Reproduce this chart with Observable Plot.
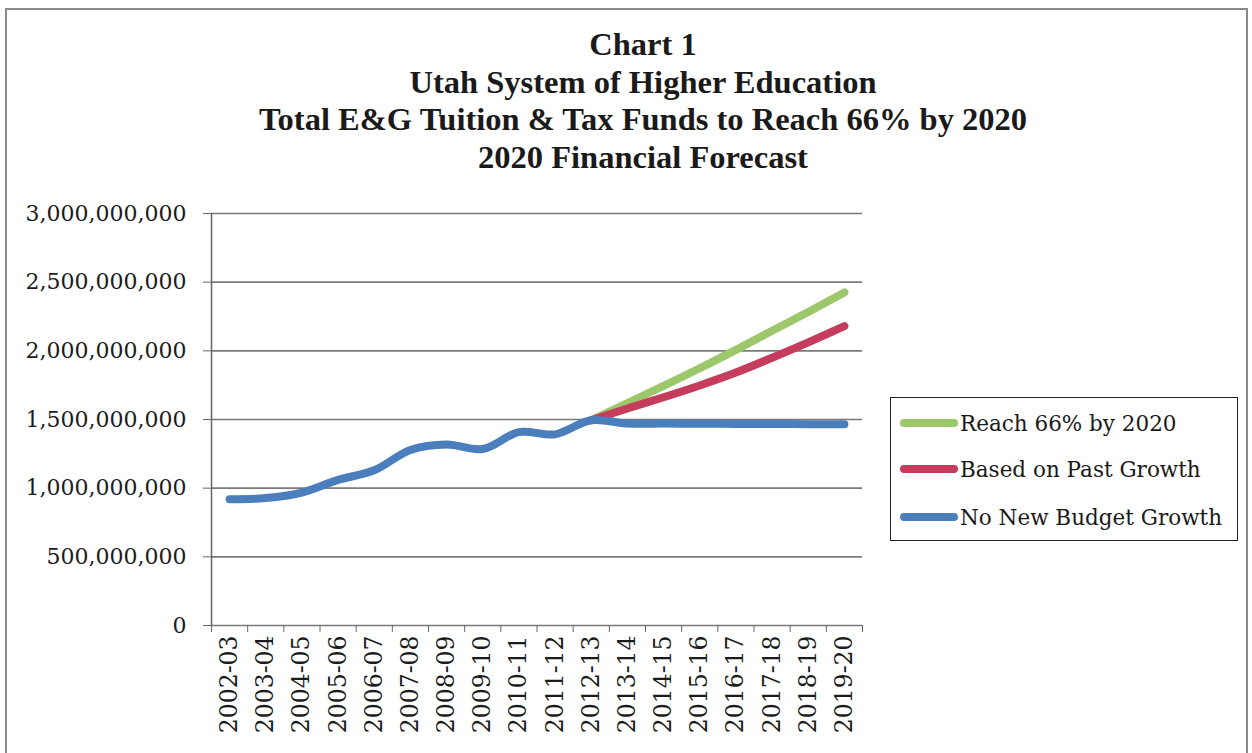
<!DOCTYPE html>
<html><head><meta charset="utf-8">
<script src="https://cdn.jsdelivr.net/npm/d3@7"></script>
<script src="https://cdn.jsdelivr.net/npm/@observablehq/plot@0.6"></script>
<style>
body{margin:0;background:#fff;width:1252px;height:753px;overflow:hidden;position:relative;color:#1c1c1c}
#frame{position:absolute;left:5px;top:8px;width:1243px;height:780px;border:2px solid #8a8a8a;box-sizing:border-box}
#title{position:absolute;left:0;top:26px;width:1286px;text-align:center;font:bold 32.5px/37.5px "Liberation Serif",serif;color:#1a1a1a}
#chart{position:absolute;left:0;top:180px}
#legend{position:absolute;left:890px;top:397px;width:348px;height:144px;border:1.5px solid #222;box-sizing:border-box;font:21.5px "DejaVu Serif",serif;color:#1a1a1a}
.row{position:absolute;left:9px;height:30px;display:flex;align-items:center;white-space:nowrap}
.sw{display:inline-block;width:58px;height:8px;border-radius:4px;margin-right:2px}
</style></head><body>
<div id="frame"></div>
<div id="title">Chart 1<br>Utah System of Higher Education<br>Total E&amp;G Tuition &amp; Tax Funds to Reach 66% by 2020<br>2020 Financial Forecast</div>
<div id="chart"></div>
<div id="legend"></div>
<script>
const years = ["2002-03","2003-04","2004-05","2005-06","2006-07","2007-08","2008-09","2009-10","2010-11","2011-12","2012-13","2013-14","2014-15","2015-16","2016-17","2017-18","2018-19","2019-20"];
const noNewBudgetGrowth = [920000000, 928000000, 968000000, 1060000000, 1130000000, 1278000000, 1318000000, 1285000000, 1408000000, 1392000000, 1495000000, 1470000000, 1470000000, 1469000000, 1468000000, 1467000000, 1466000000, 1466000000];
const projectionYears = ["2012-13","2013-14","2014-15","2015-16","2016-17","2017-18","2018-19","2019-20"];
const basedOnPastGrowth = [1495000000, 1580000000, 1662000000, 1748000000, 1842000000, 1950000000, 2062000000, 2180000000];
const reach66By2020 = [1495000000, 1620000000, 1745000000, 1873000000, 2007000000, 2146000000, 2283000000, 2425000000];
const yTicks = [0, 500000000, 1000000000, 1500000000, 2000000000, 2500000000, 3000000000];
const seriesNames = ["Reach 66% by 2020", "Based on Past Growth", "No New Budget Growth"];
const seriesColors = ["#9cc76a", "#c53c5d", "#4a7ebd"];

const idx = y => years.indexOf(y);
const blue = years.map((y, i) => ({i, v: noNewBudgetGrowth[i]}));
const red = projectionYears.map((y, k) => ({i: idx(y), v: basedOnPastGrowth[k]}));
const green = projectionYears.map((y, k) => ({i: idx(y), v: reach66By2020[k]}));
const boundaries = d3.range(-0.5, years.length, 1);
const lineOpts = c => ({x: "i", y: "v", stroke: c, strokeWidth: 8, curve: "catmull-rom", strokeLinecap: "round", strokeLinejoin: "round"});

const plot = Plot.plot({
  width: 1252, height: 565,
  marginLeft: 211, marginRight: 390, marginTop: 33, marginBottom: 120,
  x: {type: "linear", domain: [-0.5, years.length - 0.5]},
  y: {domain: [0, 3000000000]},
  style: {fontFamily: "'DejaVu Serif', serif", fontSize: "22px", color: "#1c1c1c", background: "transparent"},
  marks: [
    Plot.ruleY(yTicks, {stroke: "#7a7a7a", strokeWidth: 1.6}),
    Plot.ruleX([-0.5], {y1: 0, y2: 3000000000, stroke: "#666", strokeWidth: 1.5}),
    Plot.axisY(yTicks, {tickFormat: d3.format(","), tickSize: 8, tickPadding: 17, stroke: "#666", label: null}),
    Plot.axisX(boundaries, {tickSize: 7, tickFormat: () => "", stroke: "#666", label: null}),
    Plot.axisX(d3.range(years.length), {tickSize: 0, tickPadding: 10, tickRotate: -90, fontSize: 23.5, tickFormat: i => years[i], label: null}),
    Plot.line(green, lineOpts(seriesColors[0])),
    Plot.line(red, lineOpts(seriesColors[1])),
    Plot.line(blue, lineOpts(seriesColors[2]))
  ]
});
document.getElementById("chart").append(plot);

const leg = document.getElementById("legend");
const rowTops = [10, 56, 104];
seriesNames.forEach((n, k) => {
  const r = document.createElement("div");
  r.className = "row";
  r.style.top = rowTops[k] + "px";
  r.innerHTML = `<span class="sw" style="background:${seriesColors[k]}"></span><span>${n}</span>`;
  leg.append(r);
});
</script>
</body></html>
